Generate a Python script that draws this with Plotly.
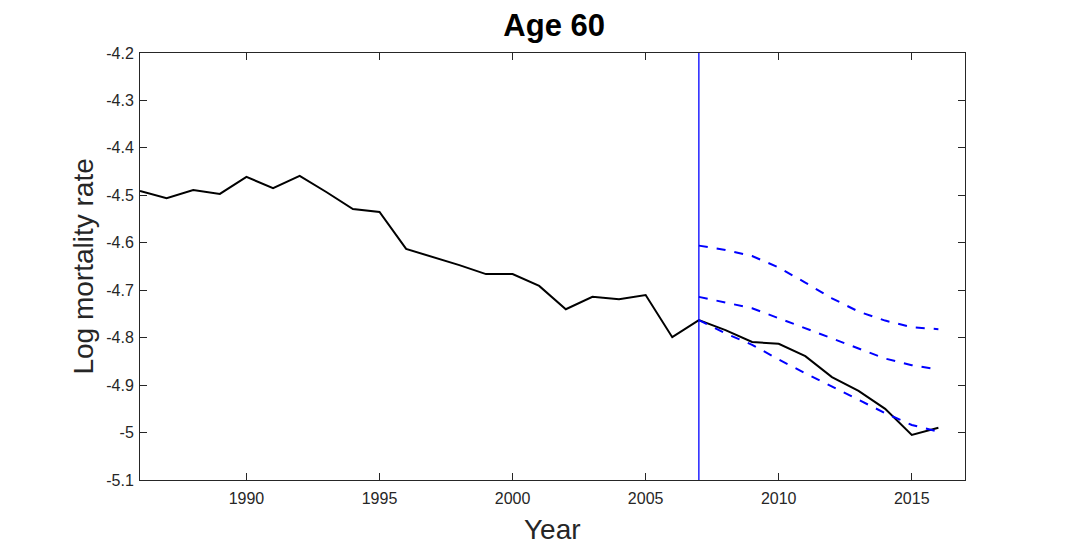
import plotly.graph_objects as go

years_obs = list(range(1986, 2017))
log_mort = [-4.491, -4.506, -4.489, -4.497, -4.461, -4.485, -4.459, -4.493, -4.529, -4.535,
            -4.613, -4.630, -4.647, -4.666, -4.666, -4.691, -4.740, -4.714, -4.719, -4.710,
            -4.799, -4.763, -4.784, -4.809, -4.813, -4.839, -4.883, -4.912, -4.950, -5.005, -4.990]

years_fc = list(range(2007, 2017))
fc_upper = [-4.606, -4.615, -4.628, -4.652, -4.684, -4.717, -4.745, -4.764, -4.778, -4.782]
fc_mid = [-4.714, -4.726, -4.738, -4.759, -4.780, -4.801, -4.822, -4.844, -4.858, -4.867]
fc_lower = [-4.763, -4.791, -4.815, -4.846, -4.875, -4.903, -4.931, -4.959, -4.984, -4.998]

split_year = 2007
x_range = [1986, 2017]
y_range = [-5.1, -4.2]
x_ticks = [1990, 1995, 2000, 2005, 2010, 2015]
y_ticks = [-5.1, -5.0, -4.9, -4.8, -4.7, -4.6, -4.5, -4.4, -4.3, -4.2]
y_ticklabels = ["-5.1", "-5", "-4.9", "-4.8", "-4.7", "-4.6", "-4.5", "-4.4", "-4.3", "-4.2"]

BLUE = "#0000ff"
FONT = "Liberation Sans"
GREY = "#262626"

fig = go.Figure()
fig.add_trace(go.Scatter(x=years_obs, y=log_mort, mode="lines",
                         line=dict(color="black", width=2), showlegend=False))
for s in (fc_upper, fc_mid, fc_lower):
    fig.add_trace(go.Scatter(x=years_fc, y=s, mode="lines",
                             line=dict(color=BLUE, width=2, dash="dash"), showlegend=False))
fig.add_trace(go.Scatter(x=[split_year, split_year], y=y_range, mode="lines",
                         line=dict(color=BLUE, width=1.3), showlegend=False))

axis_common = dict(showgrid=False, zeroline=False, showline=True, linecolor=GREY,
                   linewidth=1, mirror="ticks", ticks="inside", ticklen=7, tickcolor=GREY,
                   tickfont=dict(family=FONT, size=16, color=GREY))

fig.update_layout(
    width=1067, height=547,
    margin=dict(l=132, r=110, t=45, b=75),
    paper_bgcolor="white", plot_bgcolor="white",
    title=dict(text="<b>Age 60</b>", x=0.502, xref="paper", xanchor="center",
               y=0.968, yanchor="middle", yref="container",
               font=dict(family=FONT, size=31, color="black")),
    xaxis=dict(range=x_range, tickvals=x_ticks, ticklabelstandoff=4, **axis_common),
    yaxis=dict(range=y_range, tickvals=y_ticks, ticktext=y_ticklabels, ticklabelstandoff=2,
               **axis_common),
    annotations=[
        dict(text="Year", xref="paper", yref="paper", x=0.5, y=-0.117,
             xanchor="center", yanchor="middle", showarrow=False,
             font=dict(family=FONT, size=28, color=GREY)),
        dict(text="Log mortality rate", xref="paper", yref="paper", x=-0.069, y=0.5,
             xanchor="center", yanchor="middle", textangle=-90, showarrow=False,
             font=dict(family=FONT, size=28, color=GREY)),
    ],
)

fig.write_html("out.html")
